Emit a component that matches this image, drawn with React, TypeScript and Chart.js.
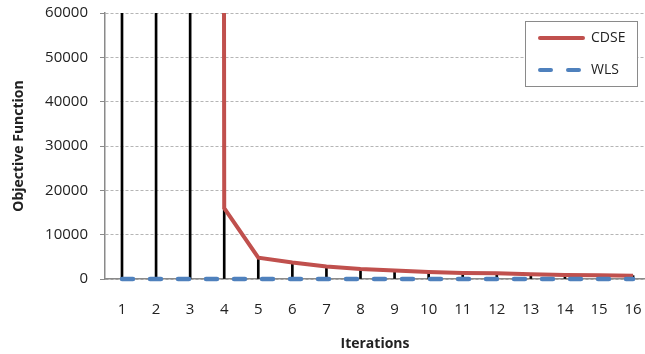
import React, { useEffect, useRef } from "react";
import { Chart, registerables } from "chart.js";

Chart.register(...registerables);

const iterations = [1, 2, 3, 4, 5, 6, 7, 8, 9, 10, 11, 12, 13, 14, 15, 16];
const cdseValues = [10000000, 9000000, 8000000, 16000, 4800, 3700, 2800, 2250, 1900, 1580, 1350, 1280, 1050, 900, 830, 750];
const wlsValues = [0, 0, 0, 0, 0, 0, 0, 0, 0, 0, 0, 0, 0, 0, 0, 0];
const yTicks = [0, 10000, 20000, 30000, 40000, 50000, 60000];
const seriesNames = ["CDSE", "WLS"];

const RED = "#C0504D";
const BLUE = "#4F81BD";
const FONT = "'Open Sans', 'DejaVu Sans', sans-serif";

const legendPlugin = {
  id: "boxLegend",
  afterDraw(chart: any) {
    const ctx = chart.ctx;
    const x0 = 525, y0 = 21, w = 112, h = 65;
    ctx.save();
    ctx.fillStyle = "#ffffff";
    ctx.fillRect(x0, y0, w, h);
    ctx.strokeStyle = "#8a8a8a";
    ctx.lineWidth = 1;
    ctx.strokeRect(x0 + 0.5, y0 + 0.5, w, h);
    const items = [
      { label: chart.data.datasets[0].label, color: RED, dash: [] as number[], y: 38 },
      { label: chart.data.datasets[1].label, color: BLUE, dash: [11, 17], y: 70 },
    ];
    items.forEach((it) => {
      ctx.beginPath();
      ctx.strokeStyle = it.color;
      ctx.lineWidth = 4;
      ctx.lineCap = "round";
      ctx.setLineDash(it.dash);
      ctx.moveTo(540, it.y);
      ctx.lineTo(583, it.y);
      ctx.stroke();
      ctx.setLineDash([]);
      ctx.fillStyle = "#222";
      ctx.font = `14px ${FONT}`;
      ctx.textBaseline = "middle";
      ctx.textAlign = "left";
      ctx.fillText(it.label, 591, it.y);
    });
    ctx.restore();
  },
};

function zeroPad(axis: any) {
  axis.paddingLeft = 0;
  axis.paddingRight = 0;
  axis.paddingTop = 0;
  axis.paddingBottom = 0;
}

export default function App() {
  const canvasRef = useRef<HTMLCanvasElement | null>(null);

  useEffect(() => {
    document.body.style.margin = "0";
    const canvas = canvasRef.current;
    if (!canvas) return;
    const chart = new Chart(canvas, {
      type: "line",
      data: {
        datasets: [
          {
            label: seriesNames[0],
            type: "line",
            data: iterations.map((x, i) => ({ x, y: cdseValues[i] })),
            borderColor: RED,
            backgroundColor: RED,
            borderWidth: 4,
            pointRadius: 0,
            tension: 0,
            order: 1,
          },
          {
            label: seriesNames[1],
            type: "line",
            data: iterations.map((x, i) => ({ x, y: wlsValues[i] })),
            borderColor: BLUE,
            backgroundColor: BLUE,
            borderWidth: 4.5,
            borderDash: [11, 17],
            borderCapStyle: "round",
            pointRadius: 0,
            clip: false,
            order: 0,
          } as any,
          {
            label: "drop",
            type: "bar",
            data: iterations.map((x, i) => ({ x, y: [wlsValues[i], cdseValues[i]] })) as any,
            backgroundColor: "#000000",
            barThickness: 2,
            order: 2,
          } as any,
        ],
      },
      options: {
        animation: false,
        responsive: false,
        devicePixelRatio: 1,
        layout: { padding: { top: 13, right: 0, left: 0, bottom: 0 } },
        plugins: { legend: { display: false }, tooltip: { enabled: false } },
        scales: {
          x: {
            type: "linear",
            offset: false,
            min: 0.501,
            max: 16.35,
            afterBuildTicks: (axis: any) => {
              axis.ticks = iterations.map((v) => ({ value: v }));
            },
            afterFit: (axis: any) => {
              axis.height = 75;
              zeroPad(axis);
            },
            grid: { display: false, drawTicks: false, offset: false },
            border: { display: true, color: "#8a8a8a", width: 1.5 },
            ticks: {
              autoSkip: false,
              maxRotation: 0,
              padding: 22,
              color: "#222",
              font: { family: FONT, size: 15 },
              callback: (v: any) => String(v),
            },
            title: {
              display: true,
              text: "Iterations",
              color: "#222",
              font: { family: FONT, size: 14, weight: "bold" },
              padding: { top: 0, bottom: 2 },
            },
          },
          y: {
            type: "linear",
            min: 0,
            max: 60000,
            afterBuildTicks: (axis: any) => {
              axis.ticks = yTicks.map((v) => ({ value: v }));
            },
            afterFit: (axis: any) => {
              axis.width = 105;
              zeroPad(axis);
            },
            grid: {
              color: "#b5b5b5",
              lineWidth: 1,
              tickLength: 5,
              tickColor: "#8a8a8a",
            },
            border: { display: true, color: "#8a8a8a", width: 1.5, dash: [3, 2] },
            ticks: {
              padding: 12,
              color: "#222",
              font: { family: FONT, size: 15 },
              callback: (v: any) => String(v),
            },
            title: {
              display: true,
              text: "Objective Function",
              color: "#222",
              font: { family: FONT, size: 14, weight: "bold" },
              padding: { top: 11, bottom: 0 },
            },
          },
        },
      },
      plugins: [legendPlugin],
    });
    return () => chart.destroy();
  }, []);

  return (
    <div style={{ width: 645, height: 354 }}>
      <canvas ref={canvasRef} width={645} height={354} />
    </div>
  );
}
